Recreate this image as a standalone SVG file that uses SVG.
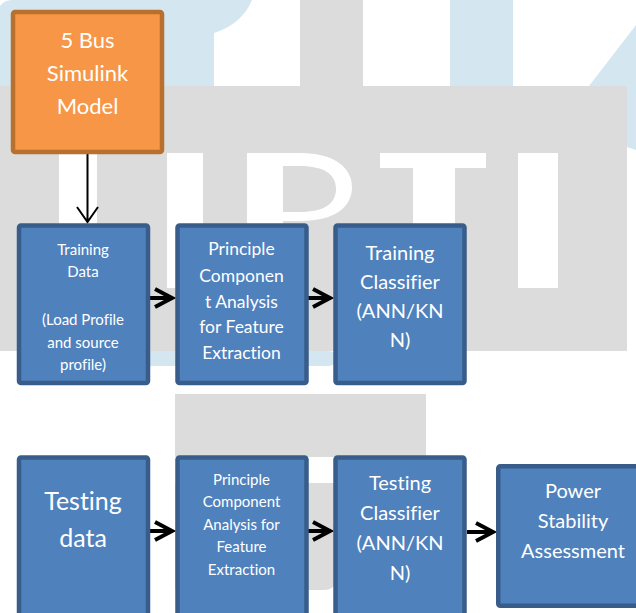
<svg xmlns="http://www.w3.org/2000/svg" width="636" height="613" viewBox="0 0 636 613">
<style>
.wm-g{fill:#dcdcdc}
.wm-b{fill:#d4e6f0}
.wm-w{fill:#ffffff}
.box{fill:#4f81bd;stroke:#385d8a;stroke-width:4.5}
.obox{fill:#f79646;stroke:#b8702f;stroke-width:4.5}
text{font-family:Lato,"Liberation Sans",sans-serif;fill:#ffffff;text-anchor:middle;font-variant-ligatures:none}
.thick{stroke:#000;stroke-width:4;fill:none}
.thin{stroke:#000;stroke-width:2;fill:none}
</style>
<defs>
<marker id="head" markerUnits="userSpaceOnUse" markerWidth="30" markerHeight="30" viewBox="-24 -15 30 30" refX="0" refY="0" orient="auto" overflow="visible">
<path d="M-17,-9 L0,0 L-17,9" stroke="#000" stroke-width="4" fill="none"/>
</marker>
</defs>
<rect width="636" height="613" fill="#ffffff"/>
<g id="watermark">
<path class="wm-b" d="M0,6 Q4,0 12,0 L252,0 C246,15 233,27 214,33 L214,86 L0,86 Z"/>
<rect class="wm-g" x="300" y="0" width="63" height="86"/>
<rect class="wm-b" x="450" y="0" width="63" height="86"/>
<polygon class="wm-b" points="636,25 589,86 560,125 636,150"/>
<rect class="wm-g" x="0" y="86" width="627" height="265"/>
<rect class="wm-w" x="59" y="153" width="38" height="135"/>
<rect class="wm-w" x="167" y="153" width="36" height="135"/>
<path class="wm-w" fill-rule="evenodd" d="M247,153 H300 C335,153 352,168 352,187 C352,207 335,221 300,221 H283 V288 H247 Z M283,166 H300 C325,166 336,175 336,189 C336,203 325,212 300,212 H283 Z"/>
<rect class="wm-w" x="380" y="153" width="106" height="15"/>
<rect class="wm-w" x="413" y="153" width="42" height="135"/>
<rect class="wm-w" x="518" y="153" width="40" height="135"/>
<path class="wm-b" d="M60,351 H328 Q336,351 336,358 Q336,366 328,366 H60 Z"/>
<rect class="wm-g" x="175" y="394" width="251" height="63"/>
<path class="wm-g" d="M175,483 H336 V578 Q336,590 324,590 H175 Z"/>
</g>
<g id="connectors">
<path class="thin" d="M87.5,154 V222 M77,207 L87.5,222 L98,207"/>
<path class="thick" d="M150,298 H172" marker-end="url(#head)"/>
<path class="thick" d="M308,298 H330" marker-end="url(#head)"/>
<path class="thick" d="M150,531 H172" marker-end="url(#head)"/>
<path class="thick" d="M308,531 H330" marker-end="url(#head)"/>
<path class="thick" d="M467,532 H493" marker-end="url(#head)"/>
</g>
<g id="model">
<rect class="obox" x="13" y="12" width="149" height="140" rx="2"/>
<text font-size="22"><tspan x="87.5" y="48">5 Bus</tspan><tspan x="87.5" y="81">Simulink</tspan><tspan x="87.5" y="114">Model</tspan></text>
</g>
<g id="training-data">
<rect class="box" x="19" y="225.5" width="129" height="157.5" rx="2"/>
<text font-size="15"><tspan x="83" y="255">Training</tspan><tspan x="83" y="277">Data</tspan><tspan x="83" y="325">(Load Profile</tspan><tspan x="83" y="348">and source</tspan><tspan x="83" y="370">profile)</tspan></text>
</g>
<g id="pca-train">
<rect class="box" x="177.5" y="225.5" width="129" height="157.5" rx="2"/>
<text font-size="17.5"><tspan x="241.5" y="255">Principle</tspan><tspan x="241.5" y="282">Componen</tspan><tspan x="241.5" y="308">t Analysis</tspan><tspan x="241.5" y="333">for Feature</tspan><tspan x="241.5" y="359">Extraction</tspan></text>
</g>
<g id="train-classifier">
<rect class="box" x="335.5" y="225.5" width="129" height="157.5" rx="2"/>
<text font-size="20"><tspan x="400" y="260">Training</tspan><tspan x="400" y="289">Classifier</tspan><tspan x="400" y="318">(ANN/KN</tspan><tspan x="400" y="347">N)</tspan></text>
</g>
<g id="testing-data">
<rect class="box" x="19" y="457.5" width="129" height="180" rx="2"/>
<text font-size="25"><tspan x="83" y="510">Testing</tspan><tspan x="83" y="547">data</tspan></text>
</g>
<g id="pca-test">
<rect class="box" x="177.5" y="457.5" width="129" height="180" rx="2"/>
<text font-size="15"><tspan x="241.5" y="485">Principle</tspan><tspan x="241.5" y="507">Component</tspan><tspan x="241.5" y="530">Analysis for</tspan><tspan x="241.5" y="552">Feature</tspan><tspan x="241.5" y="575">Extraction</tspan></text>
</g>
<g id="test-classifier">
<rect class="box" x="335.5" y="457.5" width="129" height="180" rx="2"/>
<text font-size="20"><tspan x="400" y="490">Testing</tspan><tspan x="400" y="520">Classifier</tspan><tspan x="400" y="550">(ANN/KN</tspan><tspan x="400" y="580">N)</tspan></text>
</g>
<g id="power">
<rect class="box" x="498.25" y="466.25" width="149.5" height="139.5" rx="2"/>
<text font-size="20"><tspan x="573" y="498">Power</tspan><tspan x="573" y="528">Stability</tspan><tspan x="573" y="558">Assessment</tspan></text>
</g>
</svg>
